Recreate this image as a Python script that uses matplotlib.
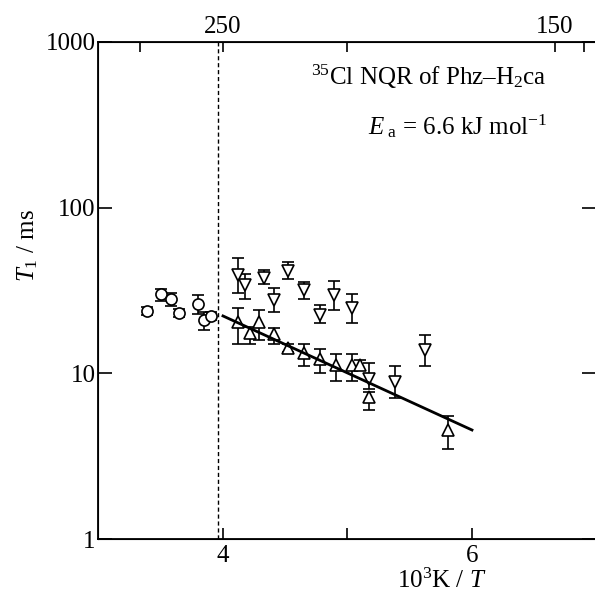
import matplotlib.pyplot as plt
import numpy as np

plt.rcParams['font.family'] = ['Liberation Serif', 'DejaVu Serif']
plt.rcParams['mathtext.fontset'] = 'custom'
plt.rcParams['mathtext.rm'] = 'Liberation Serif'
plt.rcParams['mathtext.it'] = 'Liberation Serif:italic'

# circles (high-temperature phase)
x_c = [3.39, 3.50, 3.58, 3.65, 3.80, 3.85, 3.90]
y_c = [23.9, 30.1, 28.0, 23.2, 26.2, 21.0, 22.2]
lo_c = [22.5, 27.5, 25.5, 21.8, 22.8, 18.3, 21.0]
hi_c = [25.3, 32.5, 30.5, 24.6, 29.5, 23.5, 23.4]

# up triangles
x_u = [4.12, 4.22, 4.29, 4.41, 4.52, 4.65, 4.78, 4.91, 5.04, 5.10, 5.17, 5.81]
y_u = [20.5, 17.4, 20.5, 17.3, 14.2, 13.2, 12.2, 11.2, 11.2, 11.2, 7.2, 4.55]
lo_u = [15.0, 15.0, 16.0, 15.0, 13.4, 11.0, 10.0, 9.0, 9.0, 10.5, 6.0, 3.5]
hi_u = [24.9, 19.0, 24.0, 18.9, 15.0, 15.0, 14.0, 13.0, 13.0, 12.0, 7.7, 5.5]

# down triangles
x_d = [4.12, 4.18, 4.33, 4.41, 4.52, 4.65, 4.78, 4.89, 5.04, 5.17, 5.38, 5.62]
y_d = [39.2, 34.1, 37.4, 27.7, 41.4, 31.8, 22.5, 29.7, 24.7, 9.3, 8.9, 13.8]
lo_d = [30.5, 28.0, 34.6, 23.3, 37.0, 28.2, 20.0, 24.0, 20.0, 8.0, 7.1, 11.1]
hi_d = [50.0, 40.0, 42.0, 32.8, 47.0, 35.8, 26.0, 36.0, 30.0, 11.5, 11.0, 17.0]

# fitted line, Ea = 6.6 kJ/mol
fit_x = [4.0, 6.0]
fit_y = [22.2, 4.55]

t_ticks = [300, 250, 200, 150, 145]
t_labels = ['', '250', '', '150', '']

fig = plt.figure(figsize=(5.95, 5.96), dpi=100)
ax = fig.add_axes([0.1655, 0.0956, 0.837, 0.834])

def err(y, lo, hi):
    y = np.array(y)
    return [y - np.array(lo), np.array(hi) - y]

ekw = dict(fmt='none', ecolor='black', elinewidth=1.2, capsize=4, capthick=1.2, zorder=2)
ax.errorbar(x_c, y_c, yerr=err(y_c, lo_c, hi_c), **ekw)
ax.errorbar(x_u, y_u, yerr=err(y_u, lo_u, hi_u), **ekw)
ax.errorbar(x_d, y_d, yerr=err(y_d, lo_d, hi_d), **ekw)
ax.plot(x_c, y_c, 'o', ms=8, mfc='white', mec='black', mew=1.2, zorder=3)
ax.plot(x_u, y_u, '^', ms=9, mfc='white', mec='black', mew=1.2, zorder=3)
ax.plot(x_d, y_d, 'v', ms=9, mfc='white', mec='black', mew=1.2, zorder=3)
ax.plot(fit_x, fit_y, color='black', lw=2, zorder=4)

ax.axvline(3.96, color='black', lw=1, linestyle=(0, (3, 2)))

ax.set_yscale('log')
ax.set_xlim(3, 7)
ax.set_ylim(1, 1000)
ax.set_xticks([4, 5, 6])
ax.set_xticklabels(['4', '', '6'])
ax.set_yticks([1, 10, 100, 1000])
ax.set_yticklabels(['1', '10', '100', '1000'])
ax.yaxis.set_minor_locator(plt.NullLocator())
ax.tick_params(direction='in', labelsize=18, length=8, width=1.2, top=False, right=True, pad=4)
ax.tick_params(axis='y', length=10, pad=2)
for s in ax.spines.values():
    s.set_linewidth(1.3)

ax2 = ax.twiny()
ax2.set_xlim(3, 7)
ax2.set_xticks([1000 / t for t in t_ticks])
ax2.set_xticklabels(t_labels)
ax2.tick_params(direction='in', labelsize=18, length=7, width=1.2, pad=3)

ax.set_xlabel(r'10$^3$K / $T$', fontsize=18, labelpad=0)
ax.xaxis.set_label_coords(0.69, -0.06)
ax.set_ylabel(r'$T_1$ / ms', fontsize=18, labelpad=4)
ax.yaxis.set_label_coords(-0.117, 0.59)

ax.text(0.663, 0.93, r'$^{35}$Cl NQR of Phz–H$_2$ca', transform=ax.transAxes,
        fontsize=18, ha='center', va='center')
ax.text(0.722, 0.83, r'$E_{\rm\ a}$ = 6.6 kJ mol$^{-1}$', transform=ax.transAxes,
        fontsize=18, ha='center', va='center')

fig.savefig('out.png', dpi=100)
